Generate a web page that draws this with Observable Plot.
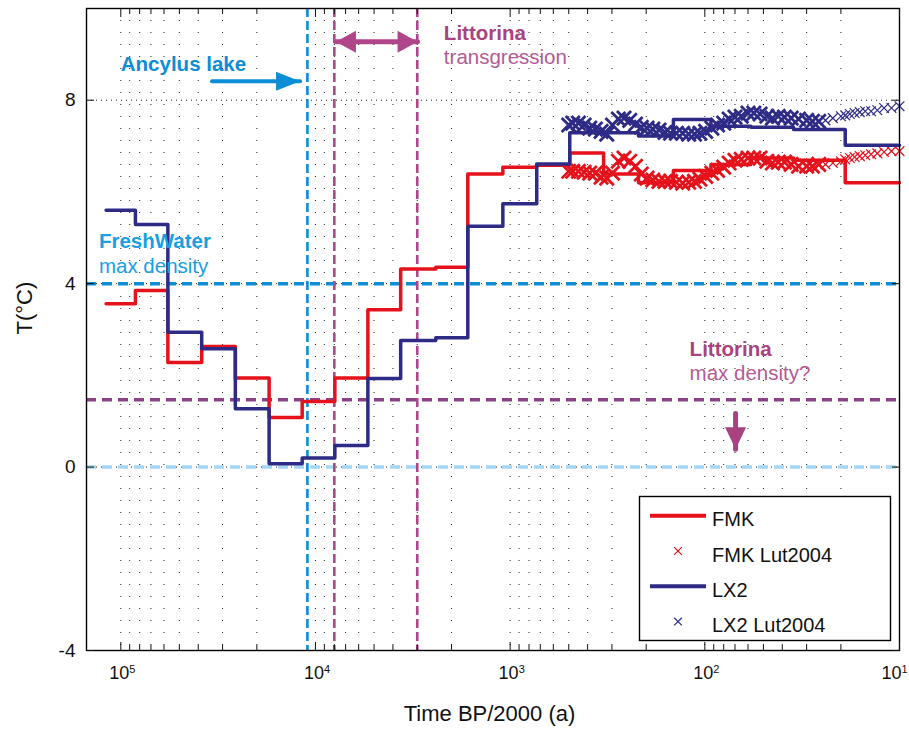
<!DOCTYPE html>
<html>
<head>
<meta charset="utf-8">
<script src="https://cdn.jsdelivr.net/npm/d3@7"></script>
<script src="https://cdn.jsdelivr.net/npm/@observablehq/plot@0.6"></script>
<style>
  html, body { margin: 0; padding: 0; background: #fff; }
  #chart { width: 909px; height: 729px; }
</style>
</head>
<body>
<div id="chart"></div>
<script>
// Step reconstructions: boundaries in years BP/2000 (oldest first); each value holds until the next boundary
const stepTimes = [119000, 84100, 57300, 38400, 25800, 17300, 11700, 7950, 5380, 3650, 2410, 1650, 1090, 730, 494, 331, 219, 145, 93, 58, 35, 19, 10];
const fmkSteps = [3.56, 3.85, 2.28, 2.63, 1.94, 1.08, 1.43, 1.94, 3.43, 4.32, 4.36, 6.39, 6.54, 6.58, 6.85, 6.39, 6.20, 6.47, 6.60, 6.74, 6.69, 6.20];
const lx2Steps = [5.60, 5.29, 2.94, 2.58, 1.27, 0.07, 0.20, 0.47, 1.93, 2.76, 2.82, 5.25, 5.74, 6.61, 7.29, 7.29, 7.22, 7.58, 7.43, 7.41, 7.36, 7.02];

// Luterbacher 2004 series (years BP/2000)
const lutTimes = [10, 11, 12, 13, 14, 15, 16, 17, 18, 19, 20, 22, 24, 26, 28, 30, 33, 36, 39, 42, 45, 48, 52, 56, 60, 65, 70, 75, 80, 86, 92, 99, 106, 113, 121, 130, 140, 150, 160, 172, 185, 198, 212, 227, 243, 260, 278, 298, 319, 341, 365, 390, 417, 446, 477, 500];
const fmkLut = [6.89, 6.89, 6.87, 6.84, 6.82, 6.80, 6.78, 6.76, 6.74, 6.71, 6.67, 6.63, 6.60, 6.60, 6.56, 6.56, 6.56, 6.60, 6.65, 6.65, 6.63, 6.67, 6.74, 6.74, 6.74, 6.71, 6.69, 6.63, 6.54, 6.47, 6.41, 6.34, 6.28, 6.23, 6.21, 6.19, 6.21, 6.23, 6.23, 6.23, 6.26, 6.30, 6.39, 6.56, 6.67, 6.74, 6.67, 6.41, 6.30, 6.32, 6.41, 6.41, 6.43, 6.45, 6.45, 6.45];
const lx2Lut = [7.87, 7.83, 7.83, 7.78, 7.76, 7.76, 7.74, 7.72, 7.70, 7.67, 7.65, 7.61, 7.56, 7.54, 7.54, 7.56, 7.59, 7.61, 7.63, 7.65, 7.61, 7.65, 7.70, 7.72, 7.72, 7.65, 7.63, 7.59, 7.50, 7.46, 7.39, 7.32, 7.28, 7.26, 7.26, 7.28, 7.28, 7.28, 7.30, 7.35, 7.37, 7.39, 7.41, 7.48, 7.56, 7.61, 7.59, 7.46, 7.26, 7.32, 7.37, 7.39, 7.46, 7.50, 7.50, 7.46];

const seriesNames = ["FMK", "FMK Lut2004", "LX2", "LX2 Lut2004"];
const majorTicks = [1e5, 1e4, 1e3, 1e2, 1e1];
const tickExponents = ["5", "4", "3", "2", "1"];
const yTicks = [-4, 0, 4, 8];

// Reference levels and event dates
const refLevels = [4, 1.47, 0];
const refTimes = [11000, 8000, 3000];

const RED = "#e5121c", NAVY = "#2e2b86";
const BLUE = "#0c8dd5", FRESH = "#18a0e2", LIGHT = "#a2d8f4";
const MAGENTA = "#b0468a", PURPLE = "#8c4088";
const levelColors = [BLUE, PURPLE, LIGHT];
const timeColors = [BLUE, MAGENTA, MAGENTA];
const font = '"Liberation Sans", Arial, Helvetica, sans-serif';

const stepRows = vals => stepTimes.map((t, i) => ({t, T: vals[Math.min(i, vals.length - 1)]}));
const lutRows = vals => lutTimes.map((t, i) => ({t, T: vals[i]}));
// annual markers are sparse near the present and crowd together further back
const sparse = d => d.t <= 24;
const dense = d => d.t > 24;

// log grid positions inside the x domain
const xDomain = [1.5e5, 10];
const gridTimes = d3.scaleLog().domain([10, 1.5e5]).ticks().filter(v => v >= 10 && v <= 1.5e5);
const minorTimes = gridTimes.filter(v => !majorTicks.includes(v));

// filled arrowhead, tip at the origin, pointing along +x
const head = (L, W) => ({draw(ctx) { ctx.moveTo(0, 0); ctx.lineTo(-L, -W / 2); ctx.lineTo(-L, W / 2); ctx.closePath(); }});

// annotation arrows: shafts and heads (angle: screen direction of the head)
const shafts = [
  {t1: 34000, T1: 8.416, t2: 12000, T2: 8.416, color: BLUE, w: 4, inS: 0, inE: 20},
  {t1: 7850, T1: 9.273, t2: 2990, T2: 9.273, color: MAGENTA, w: 5, inS: 17, inE: 17},
  {t1: 69.5, T1: 1.17, t2: 69.5, T2: 0.386, color: "#a8437f", w: 5, inS: 0, inE: 19}
];
const heads = [
  {t: 12000, T: 8.416, angle: 0, color: BLUE, shape: head(24, 19)},
  {t: 7850, T: 9.273, angle: 180, color: MAGENTA, shape: head(20, 22)},
  {t: 2990, T: 9.273, angle: 0, color: MAGENTA, shape: head(20, 22)},
  {t: 69.5, T: 0.386, angle: 90, color: "#a8437f", shape: head(22, 21)}
];

// text annotations
const notes = [
  {t: 1e5, T: 8.634, text: "Ancylus lake", color: BLUE, weight: "bold"},
  {t: 2190, T: 9.31, text: "Littorina", color: "#a8437f", weight: "bold"},
  {t: 2190, T: 8.787, text: "transgression", color: "#b35a96", weight: "normal"},
  {t: 1.295e5, T: 4.77, text: "FreshWater", color: FRESH, weight: "bold"},
  {t: 1.295e5, T: 4.23, text: "max density", color: FRESH, weight: "normal"},
  {t: 119.7, T: 2.415, text: "Littorina", color: "#a8437f", weight: "bold"},
  {t: 119.7, T: 1.89, text: "max density?", color: "#b35a96", weight: "normal"}
];

const innerTicks = majorTicks.slice(0, -1);
const lastTick = majorTicks.slice(-1);

const plot = Plot.plot({
  width: 909,
  height: 729,
  marginLeft: 86,
  marginRight: 10,
  marginTop: 8,
  marginBottom: 79,
  style: {fontFamily: font, background: "#fff", color: "#111"},
  x: {type: "log", domain: xDomain, axis: null},
  y: {domain: [-4, 10], axis: null},
  marks: [
    // dotted grid
    Plot.ruleX(gridTimes, {x: d => d, stroke: "#222", strokeWidth: 1, strokeDasharray: "1,11"}),
    Plot.ruleY(yTicks.filter(v => v > -4), {y: d => d, stroke: "#222", strokeWidth: 1, strokeDasharray: "1,4"}),
    // reference levels and event dates
    ...refLevels.map((T, i) => Plot.ruleY([T], {y: d => d, stroke: levelColors[i], strokeWidth: 3.5, strokeDasharray: "10,6"})),
    ...refTimes.map((t, i) => Plot.ruleX([t], {x: d => d, stroke: timeColors[i], strokeWidth: 2.6, strokeDasharray: "9,4"})),
    // reconstructions
    Plot.line(stepRows(fmkSteps), {x: "t", y: "T", curve: "step-after", stroke: RED, strokeWidth: 3.5}),
    Plot.dot(lutRows(fmkLut), {filter: sparse, x: "t", y: "T", symbol: "times", r: 4.5, stroke: RED, strokeWidth: 1.2}),
    Plot.dot(lutRows(fmkLut), {filter: dense, x: "t", y: "T", symbol: "times", r: 6.5, stroke: RED, strokeWidth: 2.8}),
    Plot.line(stepRows(lx2Steps), {x: "t", y: "T", curve: "step-after", stroke: NAVY, strokeWidth: 3.5}),
    Plot.dot(lutRows(lx2Lut), {filter: sparse, x: "t", y: "T", symbol: "times", r: 4.5, stroke: NAVY, strokeWidth: 1.2}),
    Plot.dot(lutRows(lx2Lut), {filter: dense, x: "t", y: "T", symbol: "times", r: 6.5, stroke: NAVY, strokeWidth: 2.8}),
    // box and inward ticks
    Plot.frame({stroke: "#000", strokeWidth: 1.4}),
    Plot.axisX({anchor: "bottom", ticks: minorTimes, tickSize: -5, tickFormat: () => "", label: null}),
    Plot.axisX({anchor: "top", ticks: minorTimes, tickSize: -5, tickFormat: () => "", label: null}),
    Plot.axisX({anchor: "bottom", ticks: majorTicks, tickSize: -8, tickFormat: () => "", label: null}),
    Plot.axisX({anchor: "top", ticks: majorTicks, tickSize: -8, tickFormat: () => "", label: null}),
    Plot.axisY({anchor: "left", ticks: yTicks, tickSize: -8, tickFormat: () => "", label: null}),
    Plot.axisY({anchor: "right", ticks: yTicks, tickSize: -8, tickFormat: () => "", label: null}),
    // tick labels (the rightmost one is pulled in to stay on the page)
    Plot.text(innerTicks, {x: d => d, frameAnchor: "bottom", text: () => "10", textAnchor: "end", lineAnchor: "bottom", dx: 8.5, dy: 28, fontSize: 18, fill: "#111"}),
    Plot.text(innerTicks, {x: d => d, frameAnchor: "bottom", text: (d, i) => tickExponents[i], textAnchor: "start", lineAnchor: "bottom", dx: 8.5, dy: 22, fontSize: 11, fill: "#111"}),
    Plot.text(lastTick, {x: d => d, frameAnchor: "bottom", text: () => "10", textAnchor: "end", lineAnchor: "bottom", dx: 2, dy: 28, fontSize: 18, fill: "#111"}),
    Plot.text(lastTick, {x: d => d, frameAnchor: "bottom", text: () => tickExponents[tickExponents.length - 1], textAnchor: "start", lineAnchor: "bottom", dx: 2, dy: 22, fontSize: 11, fill: "#111"}),
    Plot.text(yTicks, {y: d => d, frameAnchor: "left", text: d => String(d), textAnchor: "end", lineAnchor: "middle", dx: -11, fontSize: 19, fill: "#111"}),
    // axis titles
    Plot.text(["Time BP/2000 (a)"], {frameAnchor: "bottom", text: d => d, lineAnchor: "bottom", dx: -3.5, dy: 70, fontSize: 22, fill: "#111"}),
    Plot.text(["T(°C)"], {frameAnchor: "left", text: d => d, rotate: -90, lineAnchor: "middle", dx: -62, dy: 5, fontSize: 22, fill: "#111"}),
    // annotations
    Plot.arrow(shafts, {x1: "t1", y1: "T1", x2: "t2", y2: "T2", stroke: d => d.color, strokeWidth: d => d.w, headLength: 0, insetStart: d => d.inS, insetEnd: d => d.inE}),
    ...heads.map(h => Plot.dot([h], {x: "t", y: "T", symbol: h.shape, r: 5, fill: h.color, stroke: "none", rotate: h.angle})),
    ...notes.map(n => Plot.text([n], {x: "t", y: "T", text: "text", textAnchor: "start", lineAnchor: "bottom", fontSize: 20.5, fontWeight: n.weight, fill: n.color}))
  ]
});

// legend box
const svg = d3.select(plot);
const legend = svg.append("g").attr("font-family", font).attr("font-size", 20)
  .attr("fill", "#111").attr("text-anchor", "start");
legend.append("rect").attr("x", 639.5).attr("y", 496.5).attr("width", 251).attr("height", 144)
  .attr("fill", "#fff").attr("stroke", "#000").attr("stroke-width", 1.4);
const legendColors = [RED, RED, NAVY, NAVY];
seriesNames.forEach((name, i) => {
  const cy = 515.7 + i * 35.3;
  if (i % 2 === 0) {
    legend.append("line").attr("x1", 650).attr("x2", 706).attr("y1", cy).attr("y2", cy)
      .attr("stroke", legendColors[i]).attr("stroke-width", 4);
  } else {
    legend.append("path").attr("transform", `translate(678,${cy})`).attr("d", d3.symbol(d3.symbolTimes, 40)())
      .attr("fill", "none").attr("stroke", legendColors[i]).attr("stroke-width", 1.2);
  }
  legend.append("text").attr("x", 712).attr("y", cy + 10.5).attr("text-anchor", "start").text(name);
});

document.getElementById("chart").append(plot);
</script>
</body>
</html>
